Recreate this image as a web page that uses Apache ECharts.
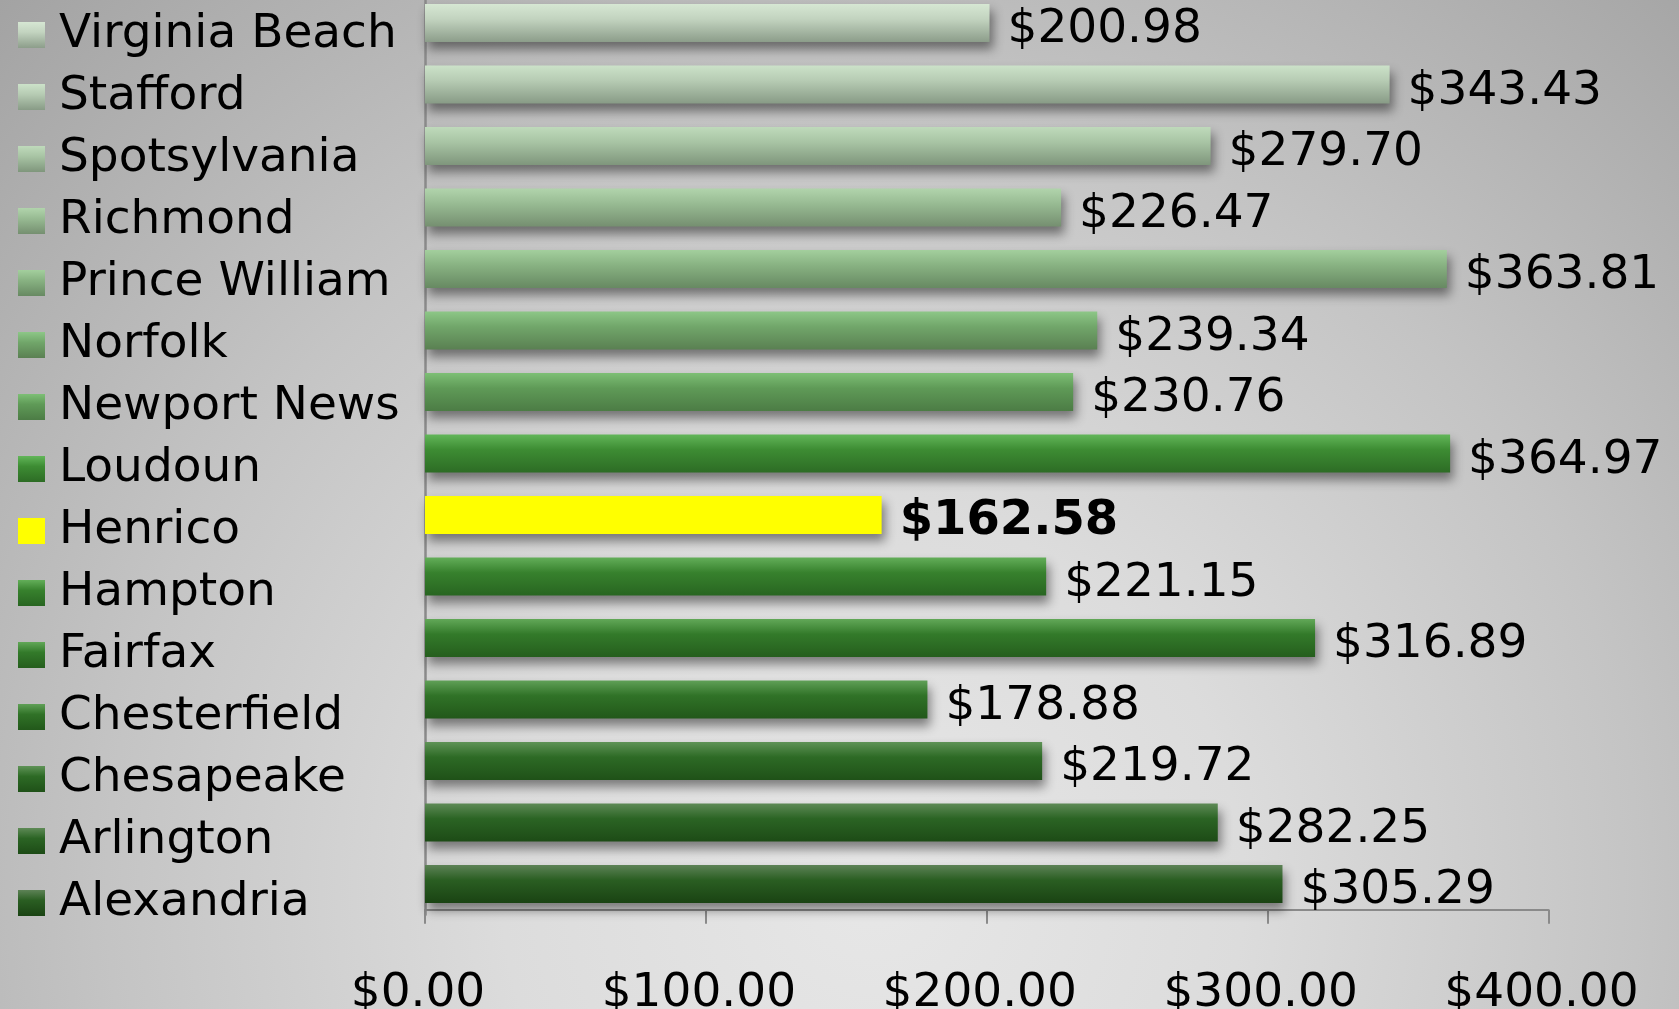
<!DOCTYPE html>
<html>
<head>
<meta charset="utf-8">
<script src="https://cdn.jsdelivr.net/npm/echarts@6/dist/echarts.min.js"></script>
<style>
  html, body { margin: 0; padding: 0; }
  body {
    width: 1679px; height: 1009px; overflow: hidden;
    background: radial-gradient(ellipse farthest-corner at 52% 88%, #e7e7e7 0%, #dcdcdc 30%, #c4c4c4 62%, #a3a3a3 100%);
  }
  #chart { width: 1679px; height: 1009px; }
</style>
</head>
<body>
<div id="chart"></div>
<script>
const categories = ['Virginia Beach', 'Stafford', 'Spotsylvania', 'Richmond', 'Prince William', 'Norfolk', 'Newport News', 'Loudoun', 'Henrico', 'Hampton', 'Fairfax', 'Chesterfield', 'Chesapeake', 'Arlington', 'Alexandria']
const costs = [200.98, 343.43, 279.70, 226.47, 363.81, 239.34, 230.76, 364.97, 162.58, 221.15, 316.89, 178.88, 219.72, 282.25, 305.29]
const highlight = 'Henrico'

// bar shading, top / middle / bottom of each bar
const topColors = ['#d6e7d3', '#cce2c9', '#bfdabb', '#b1d4ac', '#a3cf9d', '#8dc787', '#7dbf75', '#62b659', '#ffff00', '#63ae59', '#62a858', '#60a057', '#5f9357', '#5e8a56', '#5d8256']
const midColors = ['#c2d3bf', '#b6cbb3', '#a8c4a4', '#98bb93', '#88b282', '#71a66a', '#5f9a57', '#3d8c33', '#ffff00', '#37812d', '#337a2a', '#307227', '#2d6a25', '#2b6424', '#2a5e22']
const bottomColors = ['#8c9d8a', '#889b86', '#7f967c', '#758f70', '#678962', '#5a8052', '#4c7c45', '#2d6c25', '#ffff00', '#286521', '#255e1d', '#22581a', '#1f5118', '#1d4b16', '#1a4313']

const grad = (i) => ({
  type: 'linear', x: 0, y: 0, x2: 0, y2: 1,
  colorStops: [
    { offset: 0, color: topColors[i] },
    { offset: 0.4, color: midColors[i] },
    { offset: 1, color: bottomColors[i] },
  ],
})

const rich = {}
categories.forEach((c, i) => {
  rich['sq' + i] = { width: 27, height: 26, backgroundColor: grad(i) }
})
rich.t = { fontFamily: 'DejaVu Sans', fontSize: 47, color: '#000', padding: [0, 0, 0, 14] }

const barData = costs.map((v, i) => ({
  value: v,
  itemStyle: { color: grad(i) },
  label: categories[i] === highlight ? { fontWeight: 'bold', fontSize: 48 } : {},
}))

const chart = echarts.init(document.getElementById('chart'), null, { renderer: 'canvas' })
chart.setOption({
  backgroundColor: 'transparent',
  animation: false,
  grid: [
    { left: 425, right: 130.5, top: -7.75, bottom: 94.25, outerBoundsMode: 'none', containLabel: false },
    { left: 18, width: 380, top: 4, bottom: 75, outerBoundsMode: 'none', containLabel: false },
  ],
  xAxis: [
    {
      type: 'value', gridIndex: 0, min: 0, max: 400, interval: 100, offset: -5,
      axisLine: { show: true, lineStyle: { color: '#8a8a8a', width: 2 } },
      axisTick: { show: true, length: 14, lineStyle: { color: '#8a8a8a', width: 2 } },
      splitLine: { show: false },
      axisLabel: {
        margin: 61, color: '#000', fontFamily: 'DejaVu Sans', fontSize: 47,
        padding: [0, 14, 0, 0],
        formatter: (v) => '$' + v.toFixed(2),
      },
    },
    { type: 'value', gridIndex: 1, show: false },
  ],
  yAxis: [
    {
      type: 'category', gridIndex: 0, data: categories, inverse: true,
      axisLine: { show: true, lineStyle: { color: '#8a8a8a', width: 2.5 } },
      axisTick: { show: false },
      axisLabel: { show: false },
    },
    {
      type: 'category', gridIndex: 1, data: categories, inverse: true,
      axisLine: { show: false }, axisTick: { show: false },
      axisLabel: {
        inside: true, margin: 0, align: 'left',
        formatter: (v, i) => '{sq' + i + '|}{t|' + v + '}',
        rich,
      },
    },
  ],
  series: [
    {
      type: 'bar', xAxisIndex: 0, yAxisIndex: 0, barWidth: 38,
      data: barData,
      itemStyle: { shadowColor: 'rgba(0,0,0,0.45)', shadowBlur: 10, shadowOffsetX: 3, shadowOffsetY: 7 },
      label: {
        show: true, position: 'right', distance: 18, offset: [0, 7],
        fontFamily: 'DejaVu Sans', fontSize: 47, color: '#000',
        formatter: (p) => '$' + p.value.toFixed(2),
      },
    },
  ],
})
window.addEventListener('resize', () => chart.resize())
</script>
</body>
</html>
